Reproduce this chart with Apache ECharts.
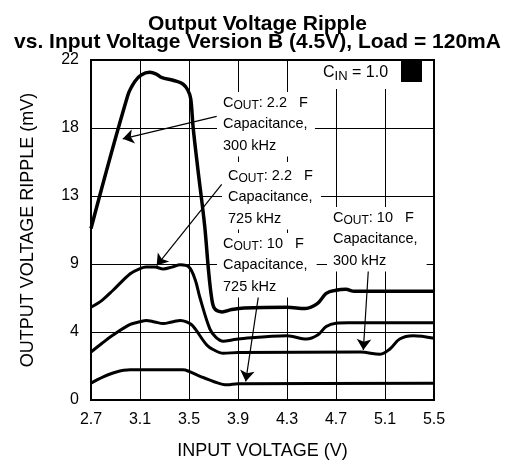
<!DOCTYPE html>
<html>
<head>
<meta charset="utf-8">
<script src="https://cdn.jsdelivr.net/npm/echarts@6/dist/echarts.min.js"></script>
<style>
html, body { margin: 0; padding: 0; background: #fff; }
#chart { width: 515px; height: 465px; }
</style>
</head>
<body>
<div id="chart"></div>
<script>
// curves: [input voltage (V), ripple (mV)]
var cout22k300 = [[2.7, 11.1], [3.0, 19.7], [3.057, 20.6], [3.11, 21.03],
    [3.18, 21.2], [3.233, 21.09], [3.274, 20.88], [3.383, 20.66], [3.45, 20.45], [3.49, 20.06],
    [3.514, 19.5], [3.533, 17.7], [3.573, 14.9], [3.628, 11.27], [3.658, 8.5], [3.685, 6.6], [3.71, 5.9],
    [3.77, 5.7], [3.85, 5.85], [3.95, 5.95], [4.3, 6.0], [4.45, 5.92], [4.55, 6.25], [4.62, 6.9],
    [4.7, 7.1], [4.78, 7.16], [4.85, 7.03], [5.5, 7.03]];
var cout22k725 = [[2.7, 6.0], [2.79, 6.45], [2.88, 7.1], [3.02, 8.17], [3.1, 8.5], [3.15, 8.6], [3.22, 8.6],
    [3.29, 8.48], [3.36, 8.6], [3.43, 8.75], [3.5, 8.6], [3.55, 7.8], [3.59, 6.6], [3.67, 4.6],
    [3.72, 4.05], [3.78, 3.8], [3.85, 3.88], [3.9, 3.95], [4.3, 4.16], [4.46, 3.94], [4.55, 4.2],
    [4.62, 4.75], [4.7, 4.97], [4.8, 5.0], [5.5, 5.0]];
var cout10k300 = [[2.7, 3.1], [2.79, 3.67], [2.88, 4.2], [3.02, 4.89], [3.1, 5.06], [3.15, 5.15],
    [3.22, 5.05], [3.29, 4.95], [3.36, 5.05], [3.43, 5.15], [3.48, 5.05], [3.53, 4.8], [3.645, 3.56],
    [3.7, 3.25], [3.78, 3.02], [3.9, 3.08], [4.9, 3.1], [5.06, 2.96], [5.14, 3.3], [5.22, 3.95],
    [5.33, 4.16], [5.5, 4.0]];
var cout10k725 = [[2.7, 1.09], [2.8, 1.5], [2.9, 1.8], [3.02, 1.95], [3.45, 1.95], [3.5, 1.85],
    [3.6, 1.5], [3.7, 1.2], [3.81, 0.98], [3.9, 1.05], [5.5, 1.09]];

// arrows from the captions to the curves: [tail, tip]
var arrows = [
    [[3.726, 18.35], [2.959, 16.9]],
    [[3.767, 13.95], [3.236, 8.7]],
    [[4.066, 6.67], [3.963, 1.2]],
    [[4.964, 8.38], [4.923, 3.23]]
];

var font = 'Liberation Sans, Arial, Helvetica, sans-serif';
var subStyle = {
    c: { fontSize: 14.5, fontFamily: font },
    s: { fontSize: 12, fontFamily: font, padding: [5, 0, 0, 0] }
};

function caption(x, y, text, pad) {
    return {
        type: 'text',
        x: x,
        y: y,
        z: 10,
        style: {
            text: text,
            fontFamily: font,
            fontSize: 14.5,
            lineHeight: 21.5,
            fill: '#000',
            backgroundColor: '#fff',
            padding: pad,
            rich: subStyle
        }
    };
}

function curve(data, width) {
    return {
        type: 'line',
        data: data,
        showSymbol: false,
        smooth: 0.35,
        lineStyle: { color: '#000', width: width },
        itemStyle: { color: '#000' }
    };
}

var myChart = echarts.init(document.getElementById('chart'));
var series = [
    curve(cout22k300, 3.5),
    curve(cout22k725, 3),
    curve(cout10k300, 3),
    curve(cout10k725, 3)
];
series[0].markLine = {
    silent: true,
    symbol: ['none', 'arrow'],
    symbolSize: 11,
    label: { show: false },
    lineStyle: { color: '#000', width: 1.2, type: 'solid' },
    data: arrows.map(function (a) {
        return [{ coord: a[0] }, { coord: a[1] }];
    })
};

var option = {
    animation: false,
    title: {
        text: 'Output Voltage Ripple\nvs. Input Voltage Version B (4.5V), Load = 120mA',
        left: 'center',
        top: 10,
        textStyle: { fontFamily: font, fontSize: 21, fontWeight: 'bold', lineHeight: 18, color: '#000', align: 'center' }
    },
    grid: {
        left: 91, right: 81, top: 60, bottom: 63,
        show: true, borderColor: '#000', borderWidth: 2
    },
    xAxis: {
        type: 'value',
        min: 2.7, max: 5.5, interval: 0.4,
        name: 'INPUT VOLTAGE (V)',
        nameLocation: 'middle',
        nameGap: 42,
        nameTextStyle: { fontFamily: font, fontSize: 18, color: '#000' },
        axisLine: { lineStyle: { color: '#000', width: 2 } },
        axisTick: { show: false },
        axisLabel: {
            fontFamily: font, fontSize: 16, color: '#000', margin: 12,
            formatter: function (v) { return v.toFixed(1); }
        },
        splitLine: { show: true, lineStyle: { color: '#000', width: 1 } }
    },
    yAxis: {
        type: 'value',
        min: 0, max: 22, interval: 4.4,
        name: 'OUTPUT VOLTAGE RIPPLE (mV)',
        nameLocation: 'middle',
        nameGap: 54,
        nameTextStyle: { fontFamily: font, fontSize: 18, color: '#000' },
        axisLine: { lineStyle: { color: '#000', width: 2 } },
        axisTick: { show: false },
        axisLabel: {
            fontFamily: font, fontSize: 16, color: '#000', margin: 12,
            formatter: function (v) { return String(Math.round(v)); }
        },
        splitLine: { show: true, lineStyle: { color: '#000', width: 1 } }
    },
    graphic: [
        caption(217, 92, '{c|C}{s|OUT}: 2.2   F\nCapacitance,\n300 kHz', [0, 7, 0, 6]),
        caption(222, 162, '{c|C}{s|OUT}: 2.2   F\nCapacitance,\n725 kHz', [3, 8, 0, 6]),
        caption(217, 233, '{c|C}{s|OUT}: 10   F\nCapacitance,\n725 kHz', [0, 9, 0, 6]),
        caption(327, 207, '{c|C}{s|OUT}: 10   F\nCapacitance,\n300 kHz', [0, 9, 0, 6]),
        {
            type: 'text',
            x: 318, y: 61, z: 10,
            style: {
                text: '{c|C}{s|IN}{c| = 1.0}',
                fill: '#000',
                backgroundColor: '#fff',
                padding: [2, 4, 6, 5],
                lineHeight: 20,
                rich: {
                    c: { fontSize: 16, fontFamily: font, lineHeight: 20 },
                    s: { fontSize: 13, fontFamily: font, lineHeight: 20, padding: [7, 0, 0, 0] }
                }
            }
        },
        {
            type: 'rect',
            z: 11,
            shape: { x: 401, y: 61, width: 21, height: 21 },
            style: { fill: '#000' }
        }
    ],
    series: series
};
myChart.setOption(option);
</script>
</body>
</html>
